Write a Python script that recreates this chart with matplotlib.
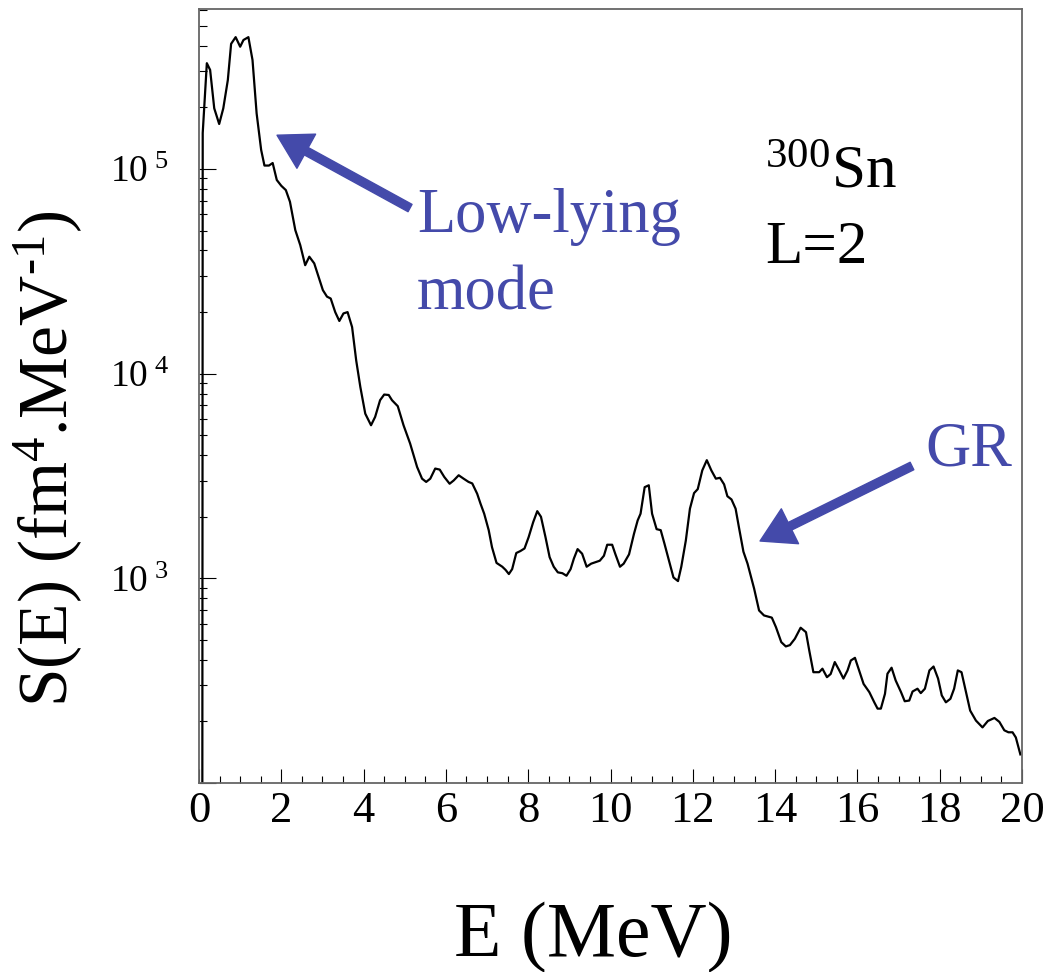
import numpy as np
import matplotlib
matplotlib.use("Agg")
import matplotlib.pyplot as plt
from matplotlib.ticker import LogLocator, MultipleLocator, FuncFormatter

plt.rcParams['font.family'] = ['Liberation Serif', 'DejaVu Serif']
plt.rcParams['mathtext.fontset'] = 'custom'
plt.rcParams['mathtext.rm'] = 'Liberation Serif'
plt.rcParams['mathtext.it'] = 'Liberation Serif:italic'
plt.rcParams['mathtext.default'] = 'rm'

# strength function, E in MeV, S in fm^4/MeV
E = [0.08, 0.09, 0.19, 0.27, 0.37, 0.49, 0.59, 0.70, 0.78, 0.89, 1.00,
     1.08, 1.20, 1.30, 1.40, 1.51, 1.59, 1.70, 1.79, 1.89, 2.00,
     2.11, 2.21, 2.34, 2.46, 2.58, 2.68, 2.80, 3.01, 3.11, 3.20,
     3.31, 3.41, 3.51, 3.61, 3.72, 3.82, 3.92, 4.04, 4.18, 4.28,
     4.40, 4.50, 4.61, 4.69, 4.83, 4.97, 5.13, 5.30, 5.42, 5.52,
     5.62, 5.74, 5.85, 5.96, 6.09, 6.19, 6.31, 6.43, 6.55, 6.64,
     6.76, 6.84, 6.93, 7.04, 7.12, 7.23, 7.37, 7.45, 7.53, 7.61,
     7.71, 7.81, 7.91, 8.01, 8.12, 8.22, 8.31, 8.42, 8.52, 8.62,
     8.72, 8.83, 8.93, 9.03, 9.11, 9.20, 9.31, 9.42, 9.53, 9.64,
     9.74, 9.84, 9.92, 10.04, 10.12, 10.23, 10.32, 10.45, 10.57, 10.66,
     10.73, 10.83, 10.93, 11.01, 11.12, 11.22, 11.31, 11.42, 11.53, 11.64,
     11.72, 11.83, 11.93, 12.03, 12.12, 12.23, 12.34, 12.45, 12.56, 12.66,
     12.76, 12.84, 12.94, 13.04, 13.12, 13.23, 13.33, 13.49, 13.61, 13.73,
     13.92, 14.02, 14.15, 14.26, 14.36, 14.48, 14.62, 14.75, 14.83, 14.93,
     15.07, 15.15, 15.26, 15.35, 15.45, 15.56, 15.66, 15.76, 15.84, 15.94,
     16.04, 16.15, 16.29, 16.41, 16.49, 16.57, 16.67, 16.73, 16.83, 16.93,
     17.06, 17.15, 17.26, 17.34, 17.46, 17.54, 17.64, 17.75, 17.85, 17.96,
     18.05, 18.15, 18.26, 18.35, 18.44, 18.53, 18.64, 18.74, 18.88, 19.04,
     19.17, 19.33, 19.45, 19.57, 19.67, 19.77, 19.85, 19.96]
S = [50, 1.50e5, 3.29e5, 3.05e5, 1.98e5, 1.66e5, 1.98e5, 2.72e5, 4.09e5, 4.41e5, 3.96e5,
     4.27e5, 4.41e5, 3.41e5, 1.87e5, 1.24e5, 1.04e5, 1.04e5, 1.07e5, 8.84e4, 8.28e4,
     7.89e4, 6.92e4, 5.03e4, 4.25e4, 3.39e4, 3.73e4, 3.46e4, 2.56e4, 2.38e4, 2.33e4,
     2.00e4, 1.81e4, 1.97e4, 2.00e4, 1.69e4, 1.16e4, 8.62e3, 6.38e3, 5.60e3, 6.15e3,
     7.42e3, 7.91e3, 7.87e3, 7.42e3, 6.94e3, 5.60e3, 4.56e3, 3.50e3, 3.07e3, 2.96e3,
     3.07e3, 3.44e3, 3.40e3, 3.13e3, 2.90e3, 3.01e3, 3.19e3, 3.07e3, 2.96e3, 2.91e3,
     2.59e3, 2.32e3, 2.07e3, 1.72e3, 1.42e3, 1.19e3, 1.14e3, 1.10e3, 1.05e3, 1.11e3,
     1.33e3, 1.36e3, 1.40e3, 1.59e3, 1.88e3, 2.13e3, 2.00e3, 1.59e3, 1.27e3, 1.14e3,
     1.07e3, 1.06e3, 1.03e3, 1.11e3, 1.25e3, 1.39e3, 1.32e3, 1.14e3, 1.18e3, 1.20e3,
     1.22e3, 1.29e3, 1.46e3, 1.46e3, 1.31e3, 1.14e3, 1.18e3, 1.31e3, 1.65e3, 1.92e3,
     2.07e3, 2.79e3, 2.85e3, 2.07e3, 1.74e3, 1.72e3, 1.48e3, 1.22e3, 1.01e3, 970,
     1.14e3, 1.53e3, 2.19e3, 2.61e3, 2.73e3, 3.37e3, 3.78e3, 3.37e3, 3.07e3, 3.10e3,
     2.88e3, 2.52e3, 2.43e3, 2.19e3, 1.78e3, 1.35e3, 1.18e3, 891, 697, 659,
     643, 578, 488, 465, 472, 507, 574, 546, 444, 348,
     348, 362, 329, 341, 390, 355, 324, 355, 397, 409,
     355, 305, 278, 248, 231, 231, 273, 342, 366, 317,
     278, 251, 253, 280, 289, 275, 289, 355, 371, 324,
     268, 248, 258, 289, 355, 348, 278, 226, 202, 187,
     201, 208, 199, 181, 177, 177, 167, 138]

blue = '#444aaa'

fig = plt.figure(figsize=(10.48, 9.72), dpi=100)
ax = fig.add_axes([0.1899, 0.1944, 0.7853, 0.7963])

ax.plot(E, S, color='black', lw=1.6)
ax.set_yscale('log')
ax.set_xlim(0, 20)
ax.set_ylim(100, 6.05e5)

ax.xaxis.set_major_locator(MultipleLocator(2))
ax.xaxis.set_minor_locator(MultipleLocator(0.5))
ax.yaxis.set_major_locator(LogLocator(base=10, numticks=10))
ax.yaxis.set_minor_locator(LogLocator(base=10, subs=np.arange(2, 10), numticks=10))
ax.yaxis.set_minor_formatter(FuncFormatter(lambda v, p: ''))
ax.yaxis.set_major_formatter(FuncFormatter(
    lambda v, p: r'$10^{\ %d}$' % round(np.log10(v)) if round(np.log10(v)) >= 3 else ''))

ax.tick_params(axis='x', which='major', direction='in', length=10, width=0.8,
               labelsize=32, pad=6)
ax.tick_params(axis='x', which='minor', direction='in', length=5, width=0.8)
ax.tick_params(axis='y', which='major', direction='in', length=12, width=0.8,
               labelsize=27, pad=22)
ax.tick_params(axis='y', which='minor', direction='in', length=6, width=0.8)
for sp in ax.spines.values():
    sp.set_color('#666666')
    sp.set_linewidth(1.3)

ax.set_xlabel('E (MeV)', fontsize=56, va='center')
ax.xaxis.set_label_coords(0.479, -0.199)
ax.set_ylabel('S(E) (fm$^{4}$.MeV$^{\u2010 1}$)', fontsize=50, va='center')
ax.yaxis.set_label_coords(-0.1835, 0.419)

# arrows pointing to the two structures
arrow = dict(facecolor=blue, edgecolor=blue, width=6, headwidth=28,
             headlength=24, shrink=0)
ax.annotate('', xy=(0.0948, 0.837), xytext=(0.2564, 0.7429),
            xycoords='axes fraction', arrowprops=arrow)
ax.annotate('', xy=(0.6817, 0.3127), xytext=(0.8663, 0.4096),
            xycoords='axes fraction', arrowprops=arrow)

ax.text(0.2646, 0.7119, 'Low-lying', transform=ax.transAxes, color=blue,
        fontsize=45, va='baseline')
ax.text(0.2646, 0.6124, 'mode', transform=ax.transAxes, color=blue,
        fontsize=45, va='baseline')
ax.text(0.882, 0.4109, 'GR', transform=ax.transAxes, color=blue,
        fontsize=45, va='baseline')
ax.text(0.6877, 0.770, r'$^{300}$Sn', transform=ax.transAxes,
        fontsize=44, va='baseline')
ax.text(0.6877, 0.6718, 'L=2', transform=ax.transAxes,
        fontsize=44, va='baseline')

fig.savefig('out.png', dpi=100)
